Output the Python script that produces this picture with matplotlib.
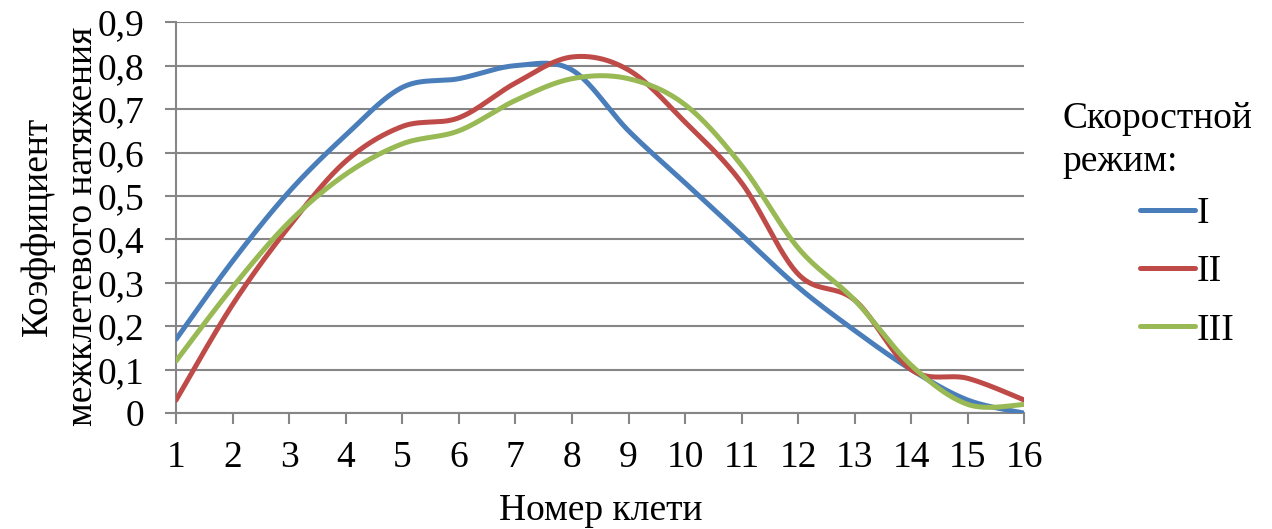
import matplotlib.pyplot as plt
import numpy as np

plt.rcParams['font.family'] = ['Liberation Serif', 'DejaVu Serif']

# номер клети
stands = [1, 2, 3, 4, 5, 6, 7, 8, 9, 10, 11, 12, 13, 14, 15, 16]

# коэффициент межклетевого натяжения по скоростным режимам
mode_1 = [0.17, 0.35, 0.51, 0.64, 0.75, 0.77, 0.80, 0.79, 0.65, 0.53, 0.41, 0.29, 0.19, 0.10, 0.03, 0.00]
mode_2 = [0.03, 0.25, 0.43, 0.58, 0.66, 0.68, 0.76, 0.82, 0.79, 0.67, 0.53, 0.32, 0.26, 0.10, 0.08, 0.03]
mode_3 = [0.12, 0.29, 0.44, 0.55, 0.62, 0.65, 0.72, 0.77, 0.77, 0.71, 0.57, 0.38, 0.26, 0.11, 0.02, 0.02]

labels = ['I', 'II', 'III']
colors = ['#4A7EBB', '#BE4B48', '#98B954']


def smooth(xs, ys, n=40):
    # сглаживание как в Excel (кривые Безье через точки)
    x = np.asarray(xs, float)
    y = np.asarray(ys, float)
    px = np.concatenate([[x[0]], x, [x[-1]]])
    py = np.concatenate([[y[0]], y, [y[-1]]])
    t = np.linspace(0, 1, n)
    out_x, out_y = [], []
    for i in range(len(x) - 1):
        p0 = np.array([px[i], py[i]])
        p1 = np.array([px[i + 1], py[i + 1]])
        p2 = np.array([px[i + 2], py[i + 2]])
        p3 = np.array([px[i + 3], py[i + 3]])
        b1 = p1 + (p2 - p0) / 6
        b2 = p2 - (p3 - p1) / 6
        pts = ((1 - t) ** 3)[:, None] * p1 + (3 * (1 - t) ** 2 * t)[:, None] * b1 \
            + (3 * (1 - t) * t ** 2)[:, None] * b2 + (t ** 3)[:, None] * p2
        out_x.extend(pts[:, 0])
        out_y.extend(pts[:, 1])
    return out_x, out_y


fs = 27
fig = plt.figure(figsize=(12.72, 5.29), dpi=100)
ax = fig.add_axes([0.1384, 0.219, 0.667, 0.739])

for ys, lab, c in zip([mode_1, mode_2, mode_3], labels, colors):
    sx, sy = smooth(stands, ys)
    ax.plot(sx, sy, color=c, lw=3.6, label=lab, solid_capstyle='round', zorder=3)

ax.set_xlim(1, 16)
ax.set_ylim(0, 0.9)
ax.set_xticks(stands)
yt = np.arange(0, 0.91, 0.1)
ax.set_yticks(yt)
ax.set_yticklabels([('%.1f' % v).replace('.', ',') if v > 0.001 else '0' for v in yt])

grid_c = '#868686'
ax.grid(axis='y', color=grid_c, lw=1.5, zorder=0)
for s in ['top', 'right']:
    ax.spines[s].set_visible(False)
for s in ['left', 'bottom']:
    ax.spines[s].set_color(grid_c)
    ax.spines[s].set_linewidth(1.5)
ax.tick_params(axis='both', colors=grid_c, width=1.5, length=8, labelcolor='black', labelsize=fs)
ax.tick_params(axis='x', pad=12)
ax.tick_params(axis='y', pad=15)

ax.set_xlabel('Номер клети', fontsize=fs, labelpad=13)
fig.text(0.047, 0.573, 'Коэффициент\nмежклетевого натяжения', fontsize=fs, rotation=90,
         ha='center', va='center', multialignment='center', linespacing=1.4)

fig.text(0.835, 0.808, 'Скоростной\nрежим:', fontsize=fs, ha='left', va='top', linespacing=1.3)
ax.legend(loc='upper left', bbox_to_anchor=(0.896, 0.628), bbox_transform=fig.transFigure,
          frameon=False, fontsize=fs, handlelength=1.47, handletextpad=0.05, labelspacing=0.63,
          borderpad=0, borderaxespad=0)

fig.savefig('out.png', dpi=100)
